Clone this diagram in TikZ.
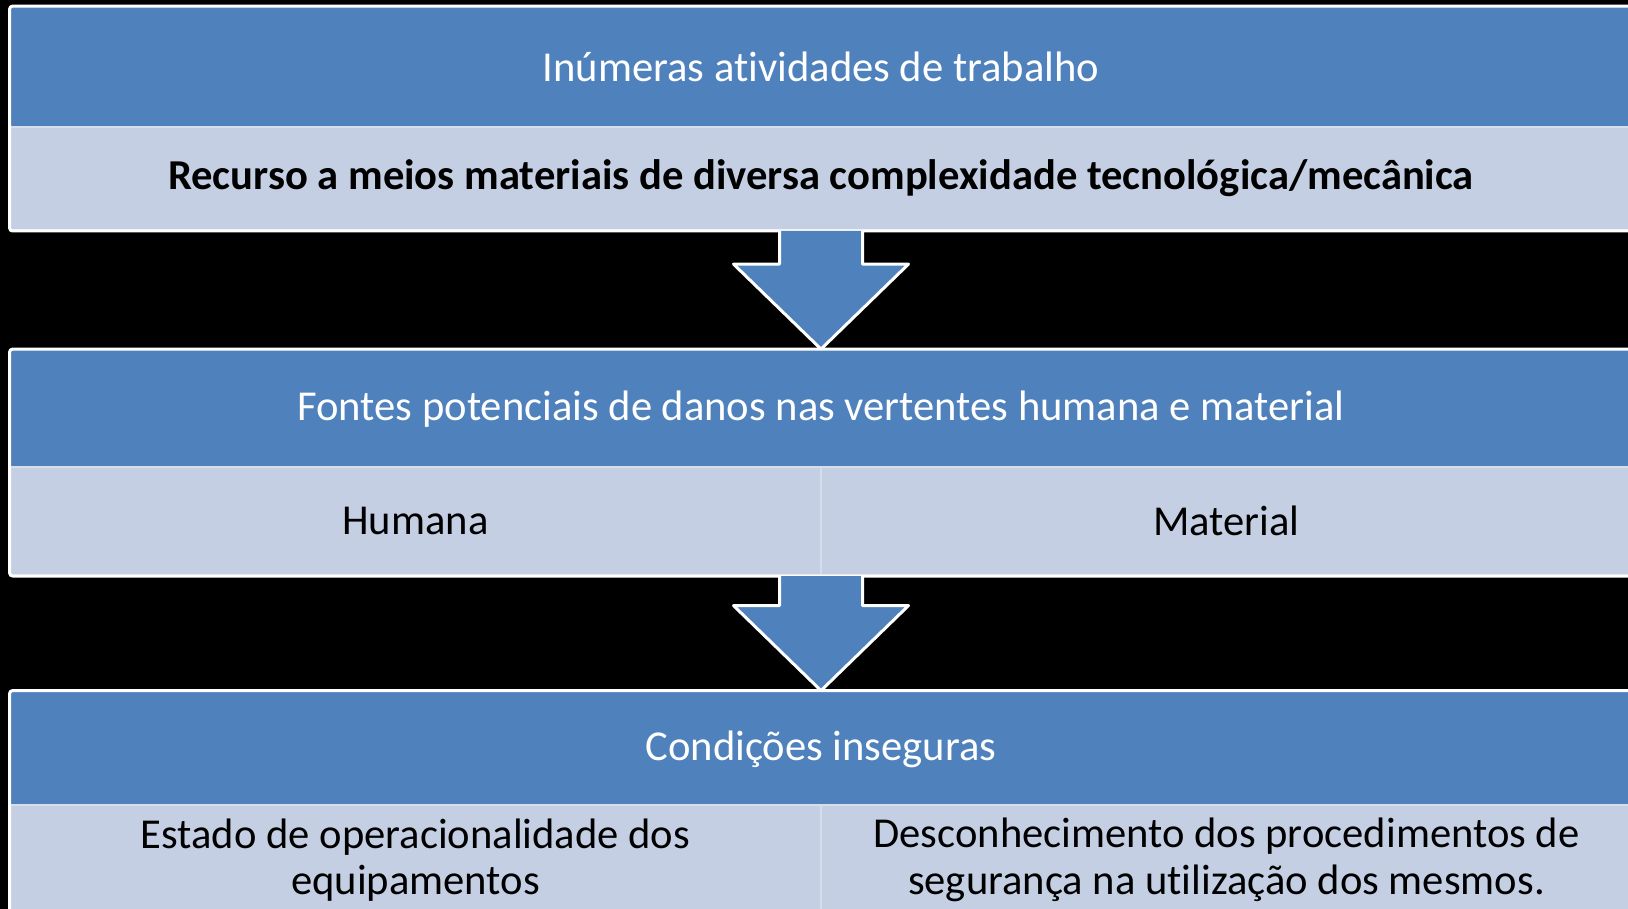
\documentclass[tikz,border=0pt]{standalone}
\usepackage{fontspec}
\setmainfont{Carlito}[Ligatures=NoCommon]
\usetikzlibrary{calc}
\definecolor{azul}{RGB}{79,129,189}
\definecolor{claro}{RGB}{196,207,227}
\definecolor{bordaclara}{RGB}{214,222,236}

\begin{document}
\begin{tikzpicture}[x=0.5pt,y=-0.5pt]
\tikzset{
	head/.style={rectangle, fill=azul, inner sep=0pt, minimum width=811pt,
		text=white, font=\fontsize{21.3}{23.3}\selectfont},
	cell/.style={rectangle, fill=claro, draw=bordaclara, line width=1pt, inner sep=0pt,
		text=black, align=center, font=\fontsize{21.3}{23.3}\selectfont},
	frame/.style={draw=white, line width=1.5pt, rounded corners=1.5pt},
	blockarrow/.style={fill=azul, draw=white, line width=1.5pt, line join=round},
}

 % fond noir et cadre
  \fill[black] (0,0) rectangle (1628,909);
  \useasboundingbox (0,0) rectangle (1628,909);
  \clip (0,0) rectangle (1628,909);

 % premier bloc
  \node[head, minimum height=60.5pt] (head1) at (821,67) {Inúmeras atividades de trabalho};
  \node[cell, minimum width=811pt, minimum height=51.5pt, font=\fontsize{21.3}{23.3}\selectfont\bfseries] (lite1) at (821,178.5)
    {Recurso a meios materiais de diversa complexidade tecnológica/mecânica};
  \draw[frame] (head1.north west) rectangle (lite1.south east);

 % deuxième bloc
  \node[head, minimum height=59.5pt] (head2) at (821,409) {Fontes potenciais de danos nas vertentes humana e material};
  \node[cell, minimum width=405.5pt, minimum height=54pt] (hum) at (415.5,521) {Humana};
  \node[cell, minimum width=405.5pt, minimum height=54pt] (mat) at (1226.5,521) {Material};
  \draw[frame] (head2.north west) rectangle (mat.south east);

 % troisième bloc
  \node[head, minimum height=58pt] (head3) at (821,749) {Condições inseguras};
  \node[cell, minimum width=405.5pt, minimum height=55pt] (estado) at (415.5,860)
    {Estado de operacionalidade dos\\equipamentos};
  \node[cell, minimum width=405.5pt, minimum height=55pt] (descon) at (1226.5,860)
    {Desconhecimento dos procedimentos de\\segurança na utilização dos mesmos.};
  \draw[frame] (head3.north west) rectangle (descon.south east);

 % flèches
  \draw[blockarrow] let \p1=(lite1.south), \p2=(head2.north) in
    (\x1-20.75pt,\y1) -- (\x1-20.75pt,\y2+42.5pt) -- (\x1-43.75pt,\y2+42.5pt) -- (\x2,\y2)
    -- (\x1+43.75pt,\y2+42.5pt) -- (\x1+20.75pt,\y2+42.5pt) -- (\x1+20.75pt,\y1);
  \draw[blockarrow] let \p1=($(hum.south east)!0.5!(mat.south west)$), \p2=(head3.north) in
    (\x1-20.75pt,\y1) -- (\x1-20.75pt,\y2+42.5pt) -- (\x1-43.75pt,\y2+42.5pt) -- (\x2,\y2)
    -- (\x1+43.75pt,\y2+42.5pt) -- (\x1+20.75pt,\y2+42.5pt) -- (\x1+20.75pt,\y1);
\end{tikzpicture}
\end{document}
